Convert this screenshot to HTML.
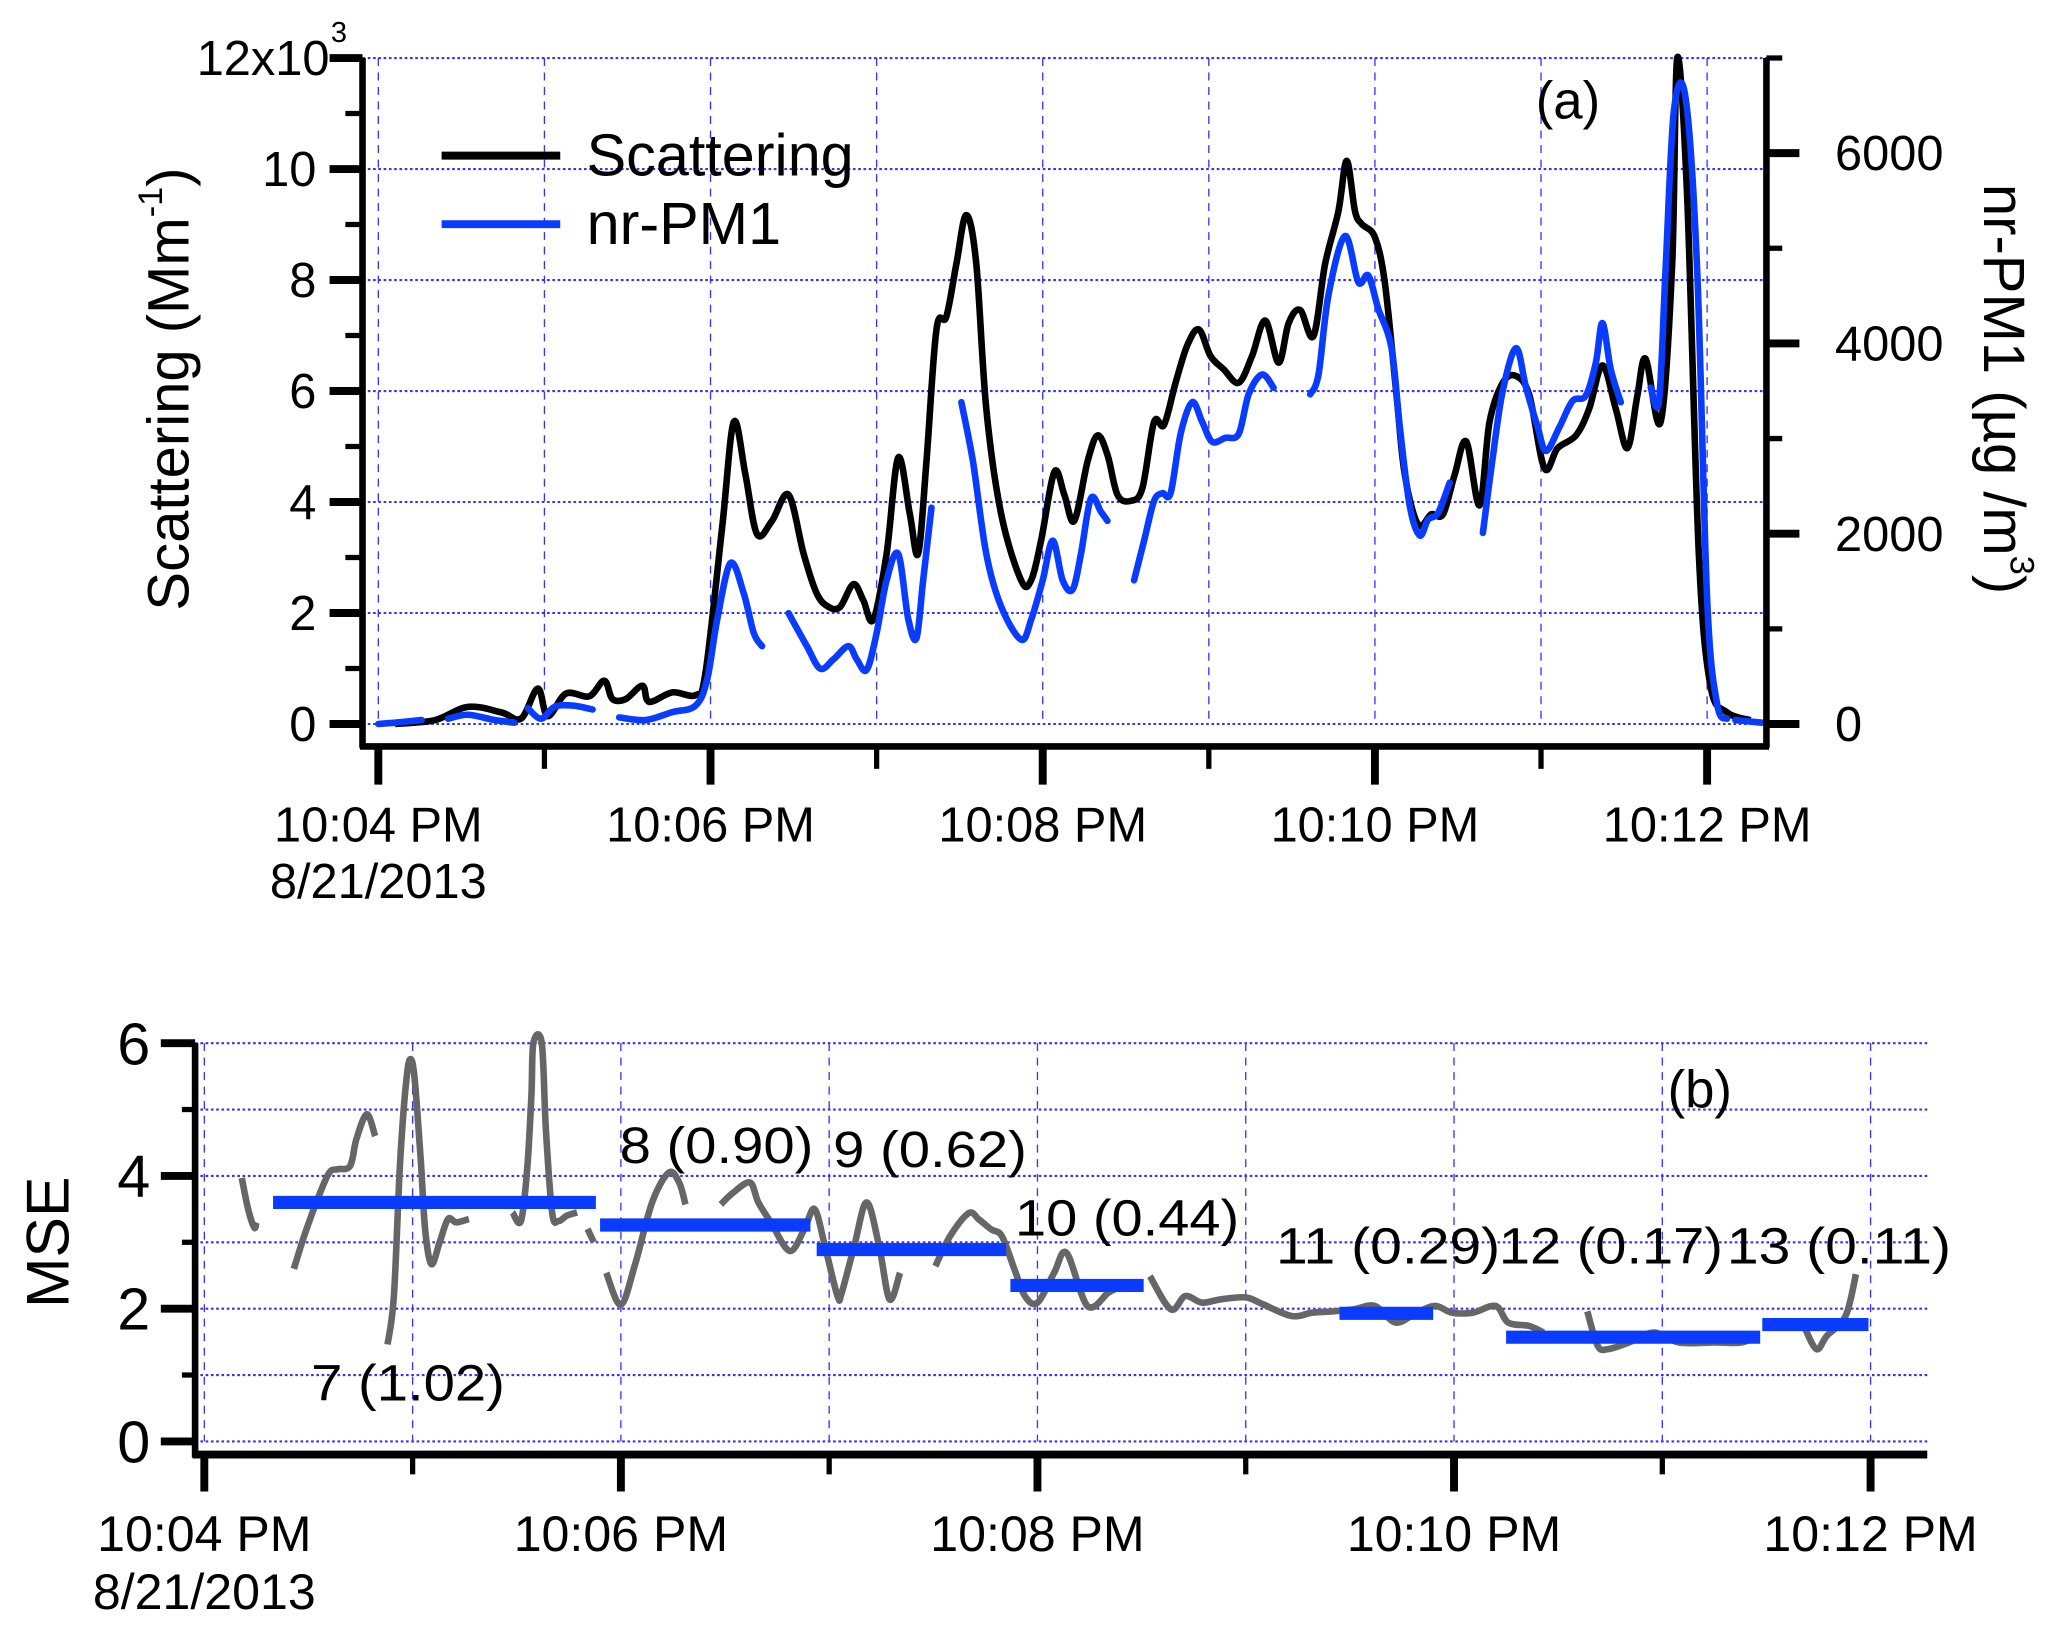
<!DOCTYPE html>
<html><head><meta charset="utf-8"><style>
html,body{margin:0;padding:0;background:#fff;}
svg{display:block;font-family:"Liberation Sans",Arial,sans-serif;}
</style></head><body>
<svg id="fig" width="2067" height="1628" viewBox="0 0 1568 1234.5" preserveAspectRatio="none" xmlns="http://www.w3.org/2000/svg">
<g id="pa"></g>
<g id="pb"></g>
</svg>
<script>
// ---- Panel (a) data: time in minutes after 10:04 PM ----
const scatT=[0.10,0.34,0.54,0.74,0.86,0.96,1.02,1.13,1.27,1.36,1.41,1.49,1.59,1.63,1.77,1.91,1.97,2.07,2.14,2.21,2.28,2.37,2.47,2.56,2.64,2.71,2.78,2.86,2.92,2.98,3.06,3.13,3.20,3.25,3.30,3.36,3.42,3.48,3.54,3.60,3.66,3.75,3.87,3.93,3.99,4.07,4.13,4.19,4.27,4.33,4.39,4.45,4.53,4.60,4.67,4.73,4.80,4.87,4.94,5.01,5.09,5.18,5.26,5.34,5.42,5.48,5.55,5.63,5.70,5.78,5.83,5.88,5.92,6.00,6.06,6.13,6.18,6.26,6.34,6.41,6.48,6.55,6.63,6.69,6.77,6.85,6.93,7.02,7.10,7.21,7.29,7.37,7.45,7.52,7.58,7.63,7.72,7.79,7.82,7.88,7.95,8.02,8.12,8.26];
const scatV=[0,0.07,0.31,0.21,0.10,0.64,0.14,0.55,0.50,0.78,0.45,0.45,0.69,0.40,0.57,0.52,0.93,3.54,5.44,4.49,3.42,3.66,4.13,3.07,2.35,2.11,2.11,2.52,2.23,1.88,3.07,4.80,3.78,3.07,4.73,7.11,7.34,8.29,9.17,8.29,5.68,3.78,2.59,2.59,3.30,4.54,4.13,3.66,4.73,5.20,4.85,4.13,4.02,4.25,5.44,5.39,6.15,6.82,7.11,6.63,6.39,6.15,6.63,7.27,6.51,7.22,7.46,6.99,8.29,9.24,10.15,9.24,9.01,8.77,7.94,5.92,4.49,3.59,3.78,3.78,4.49,5.09,3.94,5.44,6.15,6.27,5.92,4.61,4.97,5.20,5.68,6.46,5.68,4.97,5.92,6.58,5.44,8.29,12.0,9.48,3.07,0.69,0.21,0.07];
// nr-PM1 (µg/m3), segments separated by gaps (null)
const pmT=[0,0.1,0.26,null,0.42,0.54,0.7,0.82,null,0.9,0.98,1.06,1.17,1.29,null,1.45,1.61,1.77,1.91,1.98,2.04,2.12,2.2,2.26,2.31,null,2.47,2.58,2.66,2.74,2.83,2.88,2.94,3.0,3.06,3.13,3.19,3.24,3.28,3.33,null,3.51,3.58,3.66,3.75,3.87,3.93,4.0,4.06,4.12,4.18,4.23,4.29,4.35,4.39,null,4.55,4.61,4.67,4.72,4.77,4.83,4.9,4.96,5.02,5.1,5.18,5.24,5.32,5.39,null,5.61,5.66,5.72,5.82,5.9,5.96,6.02,6.1,6.15,6.21,6.27,6.32,6.38,6.45,null,6.65,6.71,6.77,6.85,6.91,6.98,7.03,7.11,7.19,7.27,7.33,7.37,7.42,7.48,null,7.66,7.71,7.75,7.8,7.87,7.94,8.0,8.06,8.12,null,8.17,8.33];
const pmV=[0,14,42,null,55,97,42,14,null,166,55,180,194,152,null,69,42,125,194,471,1095,1691,1372,956,818,null,1164,818,582,679,818,679,568,956,1511,1788,1109,901,1511,2273,null,3382,2758,1788,1233,887,1095,1511,1927,1511,1414,1788,2370,2232,2135,null,1511,1927,2342,2426,2426,3049,3382,3174,2966,3008,3049,3465,3673,3534,null,3465,3673,4505,5128,4643,4713,4366,3950,3119,2287,1982,2148,2218,2536,null,2009,2814,3507,3950,3534,3118,2869,3118,3395,3451,3798,4213,3728,3382,null,3534,3395,4782,6445,6584,4782,1316,208,55,null,42,14];
// ---- Panel (b) data ----
const mseT=[0.18,0.21,0.24,0.25,null,0.43,0.48,0.55,0.60,0.64,0.70,0.73,0.78,0.82,null,0.88,0.91,0.94,0.97,0.99,1.01,1.04,1.06,1.09,1.13,1.17,1.21,1.27,null,1.48,1.52,1.55,1.57,1.58,1.62,1.64,1.67,1.70,1.74,1.79,null,1.84,1.87,null,1.93,2.00,2.07,2.15,2.23,2.28,2.31,null,2.48,2.54,2.62,2.66,2.72,2.81,2.88,2.93,2.98,3.04,3.06,3.12,3.18,3.24,3.29,3.34,null,3.51,3.58,3.67,3.72,3.78,3.83,3.89,3.94,4.00,4.08,4.14,4.24,4.34,4.39,null,4.54,4.64,4.71,4.79,4.88,5.00,5.08,5.22,5.32,5.42,5.52,5.62,5.72,5.82,5.91,5.99,6.09,6.20,6.26,6.36,6.43,null,6.64,6.69,6.74,6.84,6.96,7.08,7.25,7.38,7.46,null,7.68,7.74,7.79,7.88,7.93];
const mseV=[3.97,3.5,3.22,3.3,null,2.6,3.1,3.7,4.05,4.1,4.15,4.55,4.93,4.6,null,1.46,2.19,4.2,5.45,5.76,5.45,4.2,3.19,2.67,3.0,3.35,3.3,3.35,null,3.45,3.32,4.1,5.2,6.0,6.0,4.7,3.44,3.32,3.4,3.45,null,3.2,3.0,null,2.54,2.06,2.69,3.6,4.05,3.9,3.57,null,3.57,3.75,3.9,3.6,3.3,2.87,3.19,3.5,2.94,2.19,2.24,2.94,3.6,2.94,2.14,2.54,null,2.64,3.09,3.44,3.34,3.19,3.09,2.59,2.19,2.09,2.54,2.84,2.04,2.24,2.32,null,2.49,1.99,2.19,2.09,2.14,2.17,2.07,1.89,1.94,1.96,1.99,2.04,1.79,1.94,2.04,1.94,1.94,2.04,1.79,1.74,1.64,null,1.96,1.44,1.39,1.49,1.64,1.49,1.49,1.49,1.59,null,1.74,1.39,1.59,1.89,2.52];
const barLabels=["7 (1.02)","8 (0.90)","9 (0.62)","10 (0.44)","11 (0.29)","12 (0.17)","13 (0.11)"];
const barStart=[0.33,1.9,2.94,3.87,5.45,6.25,7.48];
const barEnd=[1.88,2.91,3.85,4.51,5.9,7.47,7.99];
const barVal=[3.6,3.26,2.89,2.35,1.93,1.57,1.76];
const timeTicks=["10:04 PM","10:06 PM","10:08 PM","10:10 PM","10:12 PM"];
const leftTicksA=[0,2,4,6,8,10];
const rightTicksA=[0,2000,4000,6000];
const ticksB=[0,2,4,6];

const NS="http://www.w3.org/2000/svg";
function mk(parent,tag,attrs,text){const e=document.createElementNS(NS,tag);for(const k in attrs)e.setAttribute(k,attrs[k]);if(text!==undefined)e.textContent=text;parent.appendChild(e);return e;}
function pathFrom(T,V,fx,fy){
  const segs=[];let cur=[];
  for(let i=0;i<T.length;i++){if(T[i]===null){if(cur.length)segs.push(cur);cur=[];continue;}cur.push([fx(T[i]),fy(V[i])]);}
  if(cur.length)segs.push(cur);
  let d="";
  segs.forEach(p=>{
    d+="M"+p[0][0].toFixed(1)+","+p[0][1].toFixed(1);
    for(let i=0;i<p.length-1;i++){
      const p0=p[Math.max(0,i-1)],p1=p[i],p2=p[i+1],p3=p[Math.min(p.length-1,i+2)];
      const c1x=p1[0]+(p2[0]-p0[0])/6,c1y=p1[1]+(p2[1]-p0[1])/6;
      const c2x=p2[0]-(p3[0]-p1[0])/6,c2y=p2[1]-(p3[1]-p1[1])/6;
      d+="C"+c1x.toFixed(1)+","+c1y.toFixed(1)+" "+c2x.toFixed(1)+","+c2y.toFixed(1)+" "+p2[0].toFixed(1)+","+p2[1].toFixed(1);
    }
  });
  return d;
}

// ===== Panel A =====
const A=document.getElementById('pa');
const ax=t=>287+t*126, ay=v=>549-v*42.083, ayR=v=>549-v*0.07215;
for(let m=0;m<=8;m++){const g=mk(A,'line',{x1:ax(m),y1:44,x2:ax(m),y2:549,stroke:'#3333ff','stroke-width':1,'stroke-dasharray':'6,5'});}
for(let v=0;v<=12;v+=2){const g=mk(A,'line',{x1:275,y1:ay(v),x2:1340,y2:ay(v),stroke:'#3333ff','stroke-width':1.6,'stroke-dasharray':'2,2'});}
const sp=mk(A,'path',{d:pathFrom(scatT,scatV,ax,ay),fill:'none',stroke:'#000','stroke-width':5,'stroke-linejoin':'round'});

const pp=mk(A,'path',{d:pathFrom(pmT,pmV,ax,ayR),fill:'none',stroke:'#0a3cff','stroke-width':5,'stroke-linejoin':'round','stroke-linecap':'round'});

mk(A,'line',{x1:275,y1:44,x2:275,y2:567,stroke:'#000','stroke-width':5});
mk(A,'line',{x1:1340,y1:44,x2:1340,y2:567,stroke:'#000','stroke-width':5});
mk(A,'line',{x1:273,y1:566,x2:1342,y2:566,stroke:'#000','stroke-width':5});
for(let v=0;v<=12;v+=2){mk(A,'line',{x1:250,y1:ay(v),x2:275,y2:ay(v),stroke:'#000','stroke-width':6});}
for(let v=0;v<=12;v+=1){if(v%2)mk(A,'line',{x1:262,y1:ay(v),x2:275,y2:ay(v),stroke:'#000','stroke-width':4});}
for(let v=0;v<=7000;v+=1000){mk(A,'line',{x1:1340,y1:ayR(v),x2:(v%2000?1352:1365),y2:ayR(v),stroke:'#000','stroke-width':(v%2000?4:6)});}
for(let m=0;m<=8;m++){mk(A,'line',{x1:ax(m),y1:566,x2:ax(m),y2:(m%2?583:595),stroke:'#000','stroke-width':(m%2?4:6)});}
leftTicksA.forEach(v=>{const t=mk(A,'text',{x:240,y:ay(v)+13,'text-anchor':'end','font-size':37},String(v));});
{const t=mk(A,'text',{x:250,y:57,'text-anchor':'end','font-size':37},'12x10');mk(A,'text',{x:251,y:32,'font-size':22},'3');}
rightTicksA.forEach(v=>{const t=mk(A,'text',{x:1392,y:ayR(v)+13,'font-size':37},String(v));});
timeTicks.forEach((s,i)=>{const t=mk(A,'text',{x:ax(2*i),y:638,'text-anchor':'middle','font-size':37},s);});
{const t=mk(A,'text',{x:287,y:681,'text-anchor':'middle','font-size':37},'8/21/2013');}
{const t=mk(A,'text',{x:0,y:0,transform:'translate(143,295) rotate(-90)','text-anchor':'middle','font-size':44},'Scattering (Mm');mk(t,'tspan',{'font-size':26,dy:-20},'-1');mk(t,'tspan',{dy:20},')');}
{const t=mk(A,'text',{x:0,y:0,transform:'translate(1505,295) rotate(90)','text-anchor':'middle','font-size':44},'nr-PM1 (µg /m');mk(t,'tspan',{'font-size':26,dy:-20},'3');mk(t,'tspan',{dy:20},')');}
{const t=mk(A,'text',{x:1165,y:90,'font-size':40},'(a)');}
{const g=mk(A,'g',{});
mk(g,'line',{x1:335,y1:118,x2:425,y2:118,stroke:'#000','stroke-width':6});
const t1=mk(g,'text',{x:445,y:133,'font-size':45},'Scattering');
mk(g,'line',{x1:335,y1:170,x2:425,y2:170,stroke:'#0a3cff','stroke-width':6});
const t2=mk(g,'text',{x:445,y:185,'font-size':45},'nr-PM1');}

// ===== Panel B =====
const B=document.getElementById('pb');
const bx=t=>155+t*158, by=v=>1093-v*50.33;
for(let m=0;m<=8;m++){const g=mk(B,'line',{x1:bx(m),y1:791,x2:bx(m),y2:1093,stroke:'#3333ff','stroke-width':1,'stroke-dasharray':'6,5'});}
for(let v=0;v<=6;v++){const g=mk(B,'line',{x1:148,y1:by(v),x2:1462,y2:by(v),stroke:'#3333ff','stroke-width':1.6,'stroke-dasharray':'2,2'});}
const mp=mk(B,'path',{d:pathFrom(mseT,mseV,bx,by),fill:'none',stroke:'#666','stroke-width':5,'stroke-linejoin':'round'});

barVal.forEach((v,i)=>{const l=mk(B,'line',{x1:bx(barStart[i]),y1:by(v),x2:bx(barEnd[i]),y2:by(v),stroke:'#0a3cff','stroke-width':10});});
const labPos=[[236,1062],[470,882],[632,885],[770,937],[968,958],[1137,958],[1310,958]];
barLabels.forEach((s,i)=>{const t=mk(B,'text',{x:labPos[i][0],y:labPos[i][1],'font-size':39,textLength:(s.length>8?170:147),lengthAdjust:'spacingAndGlyphs'},s);});
mk(B,'line',{x1:148,y1:791,x2:148,y2:1105,stroke:'#000','stroke-width':5});
mk(B,'line',{x1:146,y1:1103,x2:1462,y2:1103,stroke:'#000','stroke-width':6});
for(let v=0;v<=6;v++){mk(B,'line',{x1:(v%2?138:122),y1:by(v),x2:148,y2:by(v),stroke:'#000','stroke-width':(v%2?4:6)});}
for(let m=0;m<=8;m++){mk(B,'line',{x1:bx(m),y1:1103,x2:bx(m),y2:(m%2?1118:1131),stroke:'#000','stroke-width':(m%2?4:6)});}
ticksB.forEach(v=>{const t=mk(B,'text',{x:114,y:by(v)+16,'text-anchor':'end','font-size':45},String(v));});
timeTicks.forEach((s,i)=>{const t=mk(B,'text',{x:bx(2*i),y:1176,'text-anchor':'middle','font-size':38},s);});
{const t=mk(B,'text',{x:155,y:1220,'text-anchor':'middle','font-size':38},'8/21/2013');}
{const t=mk(B,'text',{x:0,y:0,transform:'translate(52,942) rotate(-90)','text-anchor':'middle','font-size':46},'MSE');}
{const t=mk(B,'text',{x:1265,y:840,'font-size':40},'(b)');}
</script>
</body></html>
